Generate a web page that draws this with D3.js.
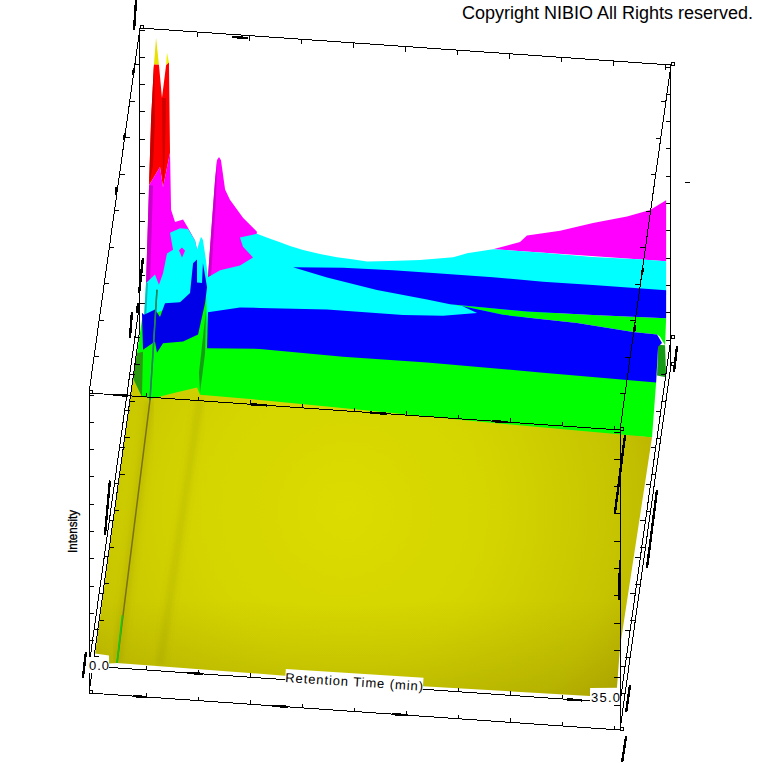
<!DOCTYPE html>
<html><head><meta charset="utf-8">
<script src="https://cdn.jsdelivr.net/npm/d3@7/dist/d3.min.js"></script>
<style>html,body{margin:0;padding:0;background:#fff}svg{display:block}text{font-family:"Liberation Sans",Arial,sans-serif;fill:#000}</style>
</head><body><div id="c"></div>
<script>
// Surface contour regions, as [retention time (min), intensity (arbitrary units)]
const peakTipA=[[4.28,633],[4.42,660],[4.61,633]];
const peakTipB=[[5.08,633],[5.14,646],[5.27,636]];
const redBand=[[3.96,512],[4.09,577],[4.28,633],[4.61,633],[4.81,600],[5.08,633],[5.27,636],[5.34,546],[4.88,511],[4.68,531]];
const redShade=[[3.96,512],[4.09,577],[4.28,633],[4.35,578],[4.22,532]];
const redShadeB=[[4.81,600],[5.08,600],[5.01,548],[4.88,511]];
const magentaLeft=[[3.76,414],[3.96,512],[4.68,531],[4.88,511],[5.34,546],[5.41,489],[5.67,477],[6.2,480],[6.53,472],[6.99,460],[7.12,451],[7.45,426],[7.84,424],[8.11,482],[8.31,522],[8.44,542],[8.57,545],[8.7,542],[8.97,513],[9.29,503],[10.15,486],[11.07,473],[10.81,440],[7.84,401],[3.76,397]];
const magentaShade=[[3.96,512],[4.22,512],[4.02,414],[3.76,414]];
const magentaPeakShade=[[7.84,424],[8.31,522],[8.44,542],[8.37,502],[8.04,424]];
const magentaRight=[[26.63,472],[28.41,481],[28.87,488],[31.05,495],[33.22,505],[35.46,514],[36.98,522],[38.04,533],[38.04,472]];
const cyanBand=[[3.76,414],[4.35,423],[4.61,413],[4.88,425],[5.14,445],[5.54,449],[5.34,466],[6,471],[6.53,471],[6.99,460],[7.12,451],[7.38,464],[7.51,461],[7.71,441],[7.84,424],[8.64,432],[9.95,438],[10.81,447],[10.15,457],[9.95,466],[11.07,471],[11.8,467.5],[12.59,464],[13.25,461],[14.11,458],[15.23,455],[16.35,453],[17.34,452],[18.33,451],[19.84,453],[21.82,456],[24,461],[24.92,466],[26.63,472],[29.93,472],[33.22,471],[36.52,472],[38.04,472],[38.04,438],[25.58,395],[3.63,362],[3.63,382]];
const cyanShade=[[3.76,414],[3.89,414],[3.76,379],[3.63,378]];
const blueUpper=[[13.45,440],[16.74,443],[20.04,444],[22.68,444],[26.63,444],[29.93,443],[33.22,443],[38.04,443],[38.04,415],[33.22,413],[28.87,412],[23.8,414],[22.28,417],[18.98,423],[15.69,432]];
const greenWedge=[[23.8,414],[28.87,412],[33.22,413],[38.04,415],[37.97,388],[37.64,396],[37.44,398],[35.86,399],[32.17,404],[27.29,407],[24.59,413]];
const greenBand=[[3.16,343],[3.49,377],[7.71,411],[7.84,361],[37.38,358],[37.38,350],[37.11,295],[20.5,290],[2.7,296]];
const blueMain=[[7.84,389],[9.95,396],[11.27,397],[15.69,400],[20.7,400],[23.34,402],[25.58,407],[24.59,413],[27.29,407],[32.17,404],[35.86,399],[37.44,398],[37.77,390],[37.51,386],[37.38,350],[29.93,352],[22.28,354],[16.74,354],[11.27,356],[7.78,353]];
const blueLeft=[[3.63,382],[4.35,388],[4.68,381],[5.01,395],[6,397],[6.66,407],[6.86,437],[7.12,441],[7.12,418],[7.45,418],[7.51,438],[7.78,414],[7.65,398],[7.19,366],[6.2,358],[4.88,355],[4.48,345],[4.35,356],[3.56,347],[3.49,384]];
const yellowBase=[[2.9,318],[3.49,300],[4.15,299],[5.8,307],[7.12,313],[7.32,306],[11.27,305],[15.69,303],[24.46,299],[37.11,295],[35,83],[34.8,42],[33.03,40],[33.03,32],[22.02,30],[12.92,31],[1.85,32],[1.32,31],[1.32,39],[0.4,40]];
const ridgeLeft=[[3.16,343],[3.56,345],[3.49,300],[2.9,318]];
const ridgeMid=[[7.71,391],[7.65,348],[7.32,308],[7.25,328]];
const ridgeRight=[[37.51,388],[37.97,388],[38.04,356],[37.44,357]];
const streakA=[[4.48,408],[4.02,297],[1.85,32]];
const streakB=[[7.32,303],[4.68,33]];
const magentaSpot=[[5.93,449],[6.13,452],[6.33,449],[6.13,442]];

// Axis box
const timeTicks=[3.8,7.23,10.66,14.09,17.52,20.95,24.38,27.81,31.24,34.67];
const intensityTicks=[25,52.3,79.6,106.9,134.2,161.5,188.8,216.1,243.4,270.7,298];
const depthTicks=[.1,.2,.3,.4,.5,.6,.7,.8,.9];
const timeEnds=[0,35];
const levelBottom=0,levelLower=27,levelTop=300;
const depthRt=3.36,depthIntensity=365;
const thickDashes=[
 [[3.1,696],[2.97,666]],[[2.97,628],[2.9,621]],[[2.37,562],[2.31,555]],[[1.78,508],[1.78,500]],
 [[3.56,439],[3.3,403]],[[3.23,393],[3.16,383]],[[2.83,384],[2.7,358]],[[1.38,214],[1.05,159]],
 [[-.2,41],[-.4,15]],[[35.33,295],[34.67,217]],[[35,170],[34.94,130]],[[37.44,243],[36.78,164]],
 [[38.76,388],[38.56,362]],[[35.66,46],[35.4,18]],[[35.4,-6],[35.14,-32]],[[9.43,666],[10.48,666]],
 [[2.9,0],[3.8,0]],[[12.06,0],[13.12,0]],[[19.97,0],[21.03,0]],[[6.46,27],[7.51,27]],[[31.5,27],[32.5,27]],
 [[18.52,300],[19.64,300]],[[26.57,300],[27.62,300]],[[10.61,300],[11.73,300]],[[1.58,300],[2.57,300]],
 [[36.52,464],[36.45,457]],[[35.99,406],[35.93,399]]];
const strayTick=[[39.29,552],[39.62,552]];
const copyright="Copyright NIBIO All Rights reserved.";
const xTitle="Retention Time (min)",yTitle="Intensity";
const xLabels=["0.0","35.0"];

const W=760,H=763;
const svg=d3.select("#c").append("svg").attr("width",W).attr("height",H);
const xs=d3.scaleLinear().domain([0,35]).range([89,620]);
const ys=d3.scaleLinear().domain([0,700]).range([693,-7]);
const tilt=d3.scaleLinear().domain([0,35]).range([0,37]);
const P=(t,v,d=0)=>{const tt=t+depthRt*d;return [xs(tt),ys(v+depthIntensity*d)+tilt(t)];};
const line=d3.line(),closed=a=>line(a.map(p=>P(p[0],p[1])))+"Z";

const defs=svg.append("defs");
const g=defs.append("radialGradient").attr("id","yg").attr("gradientUnits","userSpaceOnUse")
 .attr("cx",345).attr("cy",510).attr("r",340);
[[0,"#dcdc00"],[.45,"#d4d400"],[.8,"#c6c400"],[1,"#b8b000"]].forEach(s=>g.append("stop").attr("offset",s[0]).attr("stop-color",s[1]));
const lg=defs.append("linearGradient").attr("id","yd").attr("gradientUnits","userSpaceOnUse").attr("x1",0).attr("y1",600).attr("x2",0).attr("y2",700);
[[0,0],[1,.13]].forEach(s=>lg.append("stop").attr("offset",s[0]).attr("stop-color","#403000").attr("stop-opacity",s[1]));
defs.append("filter").attr("id","bl").append("feGaussianBlur").attr("stdDeviation",3);

const surf=svg.append("g");
const regions=[
 [peakTipA,"#e8e000"],[peakTipB,"#f0f000"],[redBand,"#ff0000"],[redShade,"#c80000"],[redShadeB,"#d00000"],
 [magentaLeft,"#ff00ff"],[magentaShade,"#cc00cc"],[magentaPeakShade,"#cc00cc"],[magentaRight,"#ff00ff"],[cyanBand,"#00ffff"],[cyanShade,"#12b8b8"],[magentaSpot,"#ff00ff"],
 [greenBand,"#00ff00"],[greenWedge,"#00ff00"],[ridgeRight,"#169c16"],[blueUpper,"#0000ff"],[blueMain,"#0000ff"],[blueLeft,"#0000e8"],
 [yellowBase,"url(#yg)"],[yellowBase,"url(#yd)"],[ridgeLeft,"#2a9a10"],[ridgeMid,"#12a012"]];
surf.selectAll("path.r").data(regions).join("path").attr("class","r")
 .attr("d",d=>closed(d[0])).attr("fill",d=>d[1]);
surf.append("path").attr("d",line(streakB.map(p=>P(p[0],p[1])))).attr("fill","none").attr("stroke","#6a6400").attr("stroke-opacity",.14).attr("stroke-width",7).attr("filter","url(#bl)");
surf.append("path").attr("d",line(streakA.slice(1).map(p=>P(p[0],p[1])))).attr("fill","none").attr("stroke","#6a6400").attr("stroke-opacity",.15).attr("stroke-width",9).attr("filter","url(#bl)");
surf.append("path").attr("d",line(streakA.map(p=>P(p[0],p[1])))).attr("fill","none").attr("stroke","#7a7010").attr("stroke-width",1.5);
surf.append("path").attr("d",line(streakA.slice(0,2).map(p=>P(p[0],p[1])))).attr("fill","none").attr("stroke","#0a8a70").attr("stroke-width",1.4);
surf.append("path").attr("d",line([[2.2,80],[1.85,32]].map(p=>P(p[0],p[1])))).attr("fill","none").attr("stroke","#14c814").attr("stroke-width",1.6);

// Box edges
const ax=svg.append("g").attr("stroke","#000").attr("fill","none").attr("stroke-width",1).attr("shape-rendering","crispEdges");
const seg=(a,b,sw=1)=>ax.append("line").attr("x1",a[0]).attr("y1",a[1]).attr("x2",b[0]).attr("y2",b[1]).attr("stroke-width",sw);
const [t0,t1]=timeEnds;
[levelBottom,levelLower,levelTop].forEach(L=>seg(P(t0,L),P(t1,L)));
seg(P(t0,levelTop,1),P(t1,levelTop,1));
seg(P(t0,levelBottom),P(t0,levelTop));seg(P(t1,levelBottom),P(t1,levelTop));
seg(P(t0,levelBottom,1),P(t0,levelTop,1));seg(P(t1,levelBottom,1),P(t1,levelTop,1));
[levelBottom,levelLower,levelTop].forEach(L=>{seg(P(t0,L),P(t0,L,1));seg(P(t1,L),P(t1,L,1));});
// Ticks
const tick=(p,dx,dy,sw=1)=>seg(p,[p[0]+dx,p[1]+dy],sw);
timeTicks.forEach(t=>{
 tick(P(t,levelBottom),0,-4);tick(P(t,levelLower),0,-4);tick(P(t,levelTop),0,-4);tick(P(t,levelTop,1),0,5);
});
intensityTicks.forEach(v=>{
 tick(P(t0,v),5,0);tick(P(t1,v),-6,0);tick(P(t0,v,1),5,0);tick(P(t1,v,1),-5,0);
});
depthTicks.forEach(d=>{
 [levelBottom,levelLower,levelTop].forEach(L=>{tick(P(t0,L,d),5,0);tick(P(t1,L,d),-5,0);});
});
[[t0,levelBottom,0],[t0,levelTop,0],[t1,levelBottom,0],[t1,levelTop,0],[t0,levelTop,1],[t1,levelTop,1],[t1,levelBottom,1],[t1,levelLower,1]].forEach(c=>{
 const p=P(c[0],c[1],c[2]);ax.append("rect").attr("x",Math.round(p[0])).attr("y",Math.round(p[1])-3).attr("width",3).attr("height",3);
});
thickDashes.forEach(d=>seg(P(d[0][0],d[0][1]),P(d[1][0],d[1][1]),2.4));
seg(P(...strayTick[0]),P(...strayTick[1]));

// Labels
const lab=svg.append("g");
const a0=P(t0,levelLower),a1=P(t1,levelLower);
lab.append("rect").attr("x",86).attr("y",657).attr("width",23).attr("height",16).attr("fill","#fff");
lab.append("rect").attr("x",590).attr("y",690).attr("width",30).attr("height",14).attr("fill","#fff");
lab.append("text").attr("x",a0[0]).attr("y",a0[1]+4).attr("font-size",13).attr("textLength",20).text(xLabels[0]);
lab.append("text").attr("x",a1[0]-29).attr("y",a1[1]-1).attr("font-size",13).attr("textLength",29).text(xLabels[1]);
const tp=lab.append("g").attr("transform","translate(285,682) rotate(3.6)");
tp.append("rect").attr("x",0).attr("y",-13).attr("width",138).attr("height",16).attr("fill","#fff");
tp.append("text").attr("x",0).attr("y",0).attr("font-size",13).attr("textLength",138).text(xTitle);
lab.append("text").attr("transform","translate(77,553) rotate(-90)").attr("font-size",12).attr("stroke","#000").attr("stroke-width",.3).attr("textLength",43).attr("lengthAdjust","spacingAndGlyphs").text(yTitle);
lab.append("text").attr("x",462).attr("y",19).attr("font-size",18).text(copyright);
</script></body></html>
